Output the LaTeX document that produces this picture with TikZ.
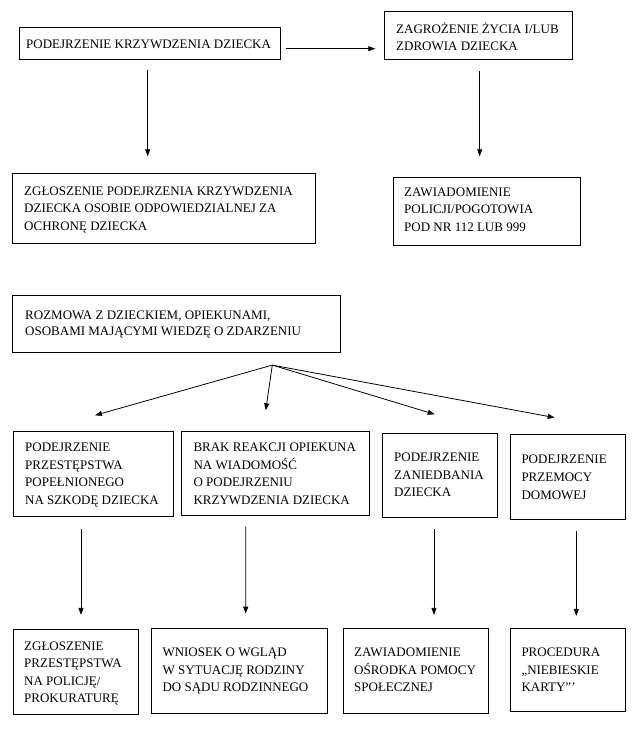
\documentclass[tikz,border=0pt]{standalone}
\usepackage{fontspec}
\setmainfont{Liberation Serif}
\usetikzlibrary{arrows.meta}
\newcommand\firststrut{\rule{0pt}{12pt}}
\begin{document}
\begin{tikzpicture}[x=1pt,y=-1pt,
  box/.style={draw, rectangle, line width=0.8pt, inner sep=0pt},
  txt/.style={inner sep=0pt, anchor=north west, align=left, font=\fontsize{13}{17.4}\selectfont},
  arr/.style={line width=0.8pt, -{Triangle[length=7pt,width=5pt]}}]
\useasboundingbox[fill=white] (0,0) rectangle (642,731);

% boxes
\node[box, minimum width=261.4pt, minimum height=32pt]   (A)  at (150,43.3) {};
\node[box, minimum width=187.3pt, minimum height=47.6pt] (B)  at (478.35,35.5) {};
\node[box, minimum width=303pt,   minimum height=69.7pt] (C)  at (164.2,208.15) {};
\node[box, minimum width=187.2pt, minimum height=67.3pt] (D)  at (487.1,211.35) {};
\node[box, minimum width=328pt,   minimum height=56.6pt] (E)  at (176.7,324) {};
\node[box, minimum width=160pt,   minimum height=85pt]   (b1) at (93.3,473.8) {};
\node[box, minimum width=187.3pt, minimum height=84.4pt] (b2) at (275.35,473.5) {};
\node[box, minimum width=115pt,   minimum height=84.3pt] (b3) at (439.8,475.15) {};
\node[box, minimum width=114.6pt, minimum height=85pt]   (b4) at (568,477.2) {};
\node[box, minimum width=125pt,   minimum height=85pt]   (c1) at (75.8,672.2) {};
\node[box, minimum width=175.6pt, minimum height=85pt]   (c2) at (239.5,670.5) {};
\node[box, minimum width=145.4pt, minimum height=85pt]   (c3) at (416,670.5) {};
\node[box, minimum width=114.6pt, minimum height=83.3pt] (c4) at (568,669.65) {};

% texts
\node[txt] (tA) at (26,36.3) {\firststrut PODEJRZENIE KRZYWDZENIA DZIECKA};
\node[txt, font=\fontsize{13}{16.6}\selectfont] (tB) at (396,21.5) {\firststrut ZAGROŻENIE ŻYCIA I/LUB\\ZDROWIA DZIECKA};
\node[txt] (tC) at (24,183.3) {\firststrut ZGŁOSZENIE PODEJRZENIA KRZYWDZENIA\\DZIECKA OSOBIE ODPOWIEDZIALNEJ ZA\\OCHRONĘ DZIECKA};
\node[txt] (tD) at (404,184) {\firststrut ZAWIADOMIENIE\\POLICJI/POGOTOWIA\\POD NR 112 LUB 999};
\node[txt, font=\fontsize{13}{16.5}\selectfont] (tE) at (25,306.8) {\firststrut ROZMOWA Z DZIECKIEM, OPIEKUNAMI,\\OSOBAMI MAJĄCYMI WIEDZĘ O ZDARZENIU};
\node[txt] (tb1) at (25,439.6) {\firststrut PODEJRZENIE\\PRZESTĘPSTWA\\POPEŁNIONEGO\\NA SZKODĘ DZIECKA};
\node[txt] (tb2) at (193.3,439.6) {\firststrut BRAK REAKCJI OPIEKUNA\\NA WIADOMOŚĆ\\O PODEJRZENIU\\KRZYWDZENIA DZIECKA};
\node[txt, font=\fontsize{13}{17.8}\selectfont] (tb3) at (394,449) {\firststrut PODEJRZENIE\\ZANIEDBANIA\\DZIECKA};
\node[txt, font=\fontsize{13}{17.8}\selectfont] (tb4) at (521.3,451.3) {\firststrut PODEJRZENIE\\PRZEMOCY\\DOMOWEJ};
\node[txt] (tc1) at (24,638) {\firststrut ZGŁOSZENIE\\PRZESTĘPSTWA\\NA POLICJĘ/\\PROKURATURĘ};
\node[txt] (tc2) at (162.3,644.6) {\firststrut WNIOSEK O WGLĄD\\W SYTUACJĘ RODZINY\\DO SĄDU RODZINNEGO};
\node[txt] (tc3) at (354,644.6) {\firststrut ZAWIADOMIENIE\\OŚRODKA POMOCY\\SPOŁECZNEJ};
\node[txt] (tc4) at (521.3,644.6) {\firststrut PROCEDURA\\„NIEBIESKIE\\KARTY”’};

% connectors
\draw[arr] ([shift={(5,5.4)}]A.east) -- ([shift={(-9,13.2)}]B.west);
\draw[arr] ([shift={(-2.3,10.7)}]A.south) -- ([shift={(-16.5,-16.6)}]C.north);
\draw[arr] ([shift={(1.35,11.4)}]B.south) -- ([shift={(-7.4,-21)}]D.north);

\coordinate (fan) at ([shift={(95.6,12.4)}]E.south);
\draw[arr] (fan) -- ([shift={(1.7,-15.6)}]b1.north);
\draw[arr] (fan) -- ([shift={(-9.65,-20.6)}]b2.north);
\draw[arr] (fan) -- ([shift={(-5.1,-18.3)}]b3.north);
\draw[arr] (fan) -- ([shift={(-13.3,-16.7)}]b4.north);

\draw[arr] ([shift={(-12.3,12.4)}]b1.south) -- ([shift={(5.2,-14.4)}]c1.north);
\draw[arr] ([shift={(-29.65,10.6)}]b2.south) -- ([shift={(6.2,-14)}]c2.north);
\draw[arr] ([shift={(-5.8,11.4)}]b3.south) -- ([shift={(18,-12.7)}]c3.north);
\draw[arr] ([shift={(8.3,11)}]b4.south) -- ([shift={(8.3,-11.7)}]c4.north);
\end{tikzpicture}
\end{document}
